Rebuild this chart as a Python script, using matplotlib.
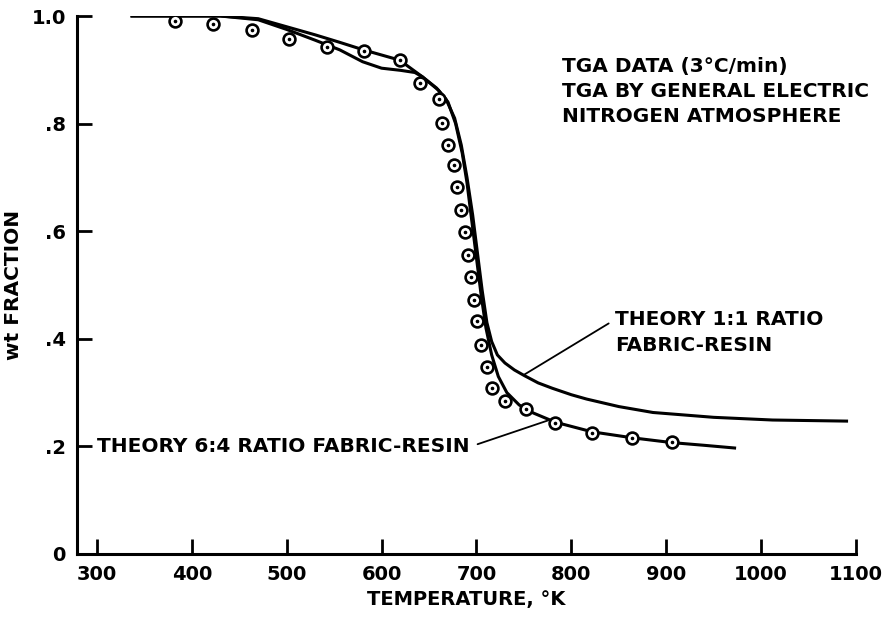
import matplotlib
matplotlib.use('Agg')
import matplotlib.pyplot as plt

# TGA measurements (circles)
data_temp = [382, 422, 463, 502, 543, 581, 619, 641, 660, 664, 670, 676, 680, 684,
             688, 691, 694, 697, 701, 705, 711, 716, 730, 752, 783, 822, 864, 906]
data_wt = [0.991, 0.985, 0.974, 0.957, 0.942, 0.935, 0.918, 0.875, 0.846, 0.801,
           0.760, 0.723, 0.682, 0.639, 0.599, 0.556, 0.515, 0.472, 0.433, 0.388,
           0.348, 0.309, 0.285, 0.270, 0.243, 0.225, 0.216, 0.208]

# theory, 6:4 fabric-resin
t64_temp = [337, 430, 470, 500, 530, 556, 581, 619, 643, 660, 670, 678, 685, 690,
            695, 700, 705, 710, 716, 723, 732, 745, 760, 783, 822, 864, 906, 940, 972]
t64_wt = [1.0, 1.0, 0.995, 0.98, 0.965, 0.951, 0.937, 0.918, 0.887, 0.862, 0.84,
          0.80, 0.745, 0.69, 0.62, 0.55, 0.48, 0.42, 0.37, 0.33, 0.30, 0.277,
          0.262, 0.245, 0.227, 0.216, 0.207, 0.202, 0.197]

# theory, 1:1 fabric-resin
t11_temp = [337, 430, 470, 500, 530, 556, 580, 600, 620, 635, 643, 658, 668, 677,
            684, 690, 696, 701, 706, 711, 716, 722, 730, 740, 750, 765, 780, 800,
            816, 850, 886, 950, 1012, 1090]
t11_wt = [1.0, 1.0, 0.993, 0.975, 0.955, 0.937, 0.915, 0.903, 0.899, 0.895, 0.887,
          0.866, 0.845, 0.81, 0.76, 0.70, 0.63, 0.56, 0.49, 0.43, 0.395, 0.37,
          0.355, 0.342, 0.332, 0.318, 0.308, 0.296, 0.288, 0.274, 0.263, 0.254,
          0.249, 0.247]

x_ticks = [300, 400, 500, 600, 700, 800, 900, 1000, 1100]
y_ticks = [0, 0.2, 0.4, 0.6, 0.8, 1.0]
y_labels = ['0', '.2', '.4', '.6', '.8', '1.0']

plt.rcParams['font.family'] = 'DejaVu Sans'
plt.rcParams['font.weight'] = 'bold'
plt.rcParams['axes.labelweight'] = 'bold'

fig = plt.figure(figsize=(8.88, 6.18), dpi=100)
ax = fig.add_axes([0.0867, 0.1036, 0.8773, 0.8705])

ax.plot(t64_temp, t64_wt, color='black', lw=2.2)
ax.plot(t11_temp, t11_wt, color='black', lw=2.2)
ax.plot(data_temp, data_wt, linestyle='none', marker='o', ms=8.5,
        mfc='white', mec='black', mew=1.9)
ax.plot(data_temp, data_wt, linestyle='none', marker='o', ms=1.6,
        mfc='black', mec='black')

ax.set_xlim(279, 1100)
ax.set_ylim(0, 1.0)
ax.set_xticks(x_ticks)
ax.set_yticks(y_ticks)
ax.set_yticklabels(y_labels)
ax.tick_params(direction='in', length=11, width=2, labelsize=14, pad=8)

for s in ['top', 'right']:
    ax.spines[s].set_visible(False)
for s in ['left', 'bottom']:
    ax.spines[s].set_linewidth(2.2)

ax.set_xlabel('TEMPERATURE, °K', fontsize=14, labelpad=4)
ax.set_ylabel('wt FRACTION', fontsize=14.5, labelpad=6)

ax.text(790, 0.923, 'TGA DATA (3°C/min)\nTGA BY GENERAL ELECTRIC\nNITROGEN ATMOSPHERE',
        fontsize=14.5, va='top', ha='left', linespacing=1.4)

ax.annotate('THEORY 6:4 RATIO FABRIC-RESIN', xy=(775, 0.248), xytext=(300, 0.199),
            fontsize=14.5, va='center', ha='left',
            arrowprops=dict(arrowstyle='-', color='black', lw=1.3,
                            relpos=(1.0, 0.5), shrinkA=4, shrinkB=0))
ax.annotate('THEORY 1:1 RATIO\nFABRIC-RESIN', xy=(750, 0.333), xytext=(846, 0.412),
            fontsize=14.5, va='center', ha='left', linespacing=1.5,
            arrowprops=dict(arrowstyle='-', color='black', lw=1.3,
                            relpos=(0.0, 0.78), shrinkA=3, shrinkB=0))

fig.savefig('out.png', dpi=100)
